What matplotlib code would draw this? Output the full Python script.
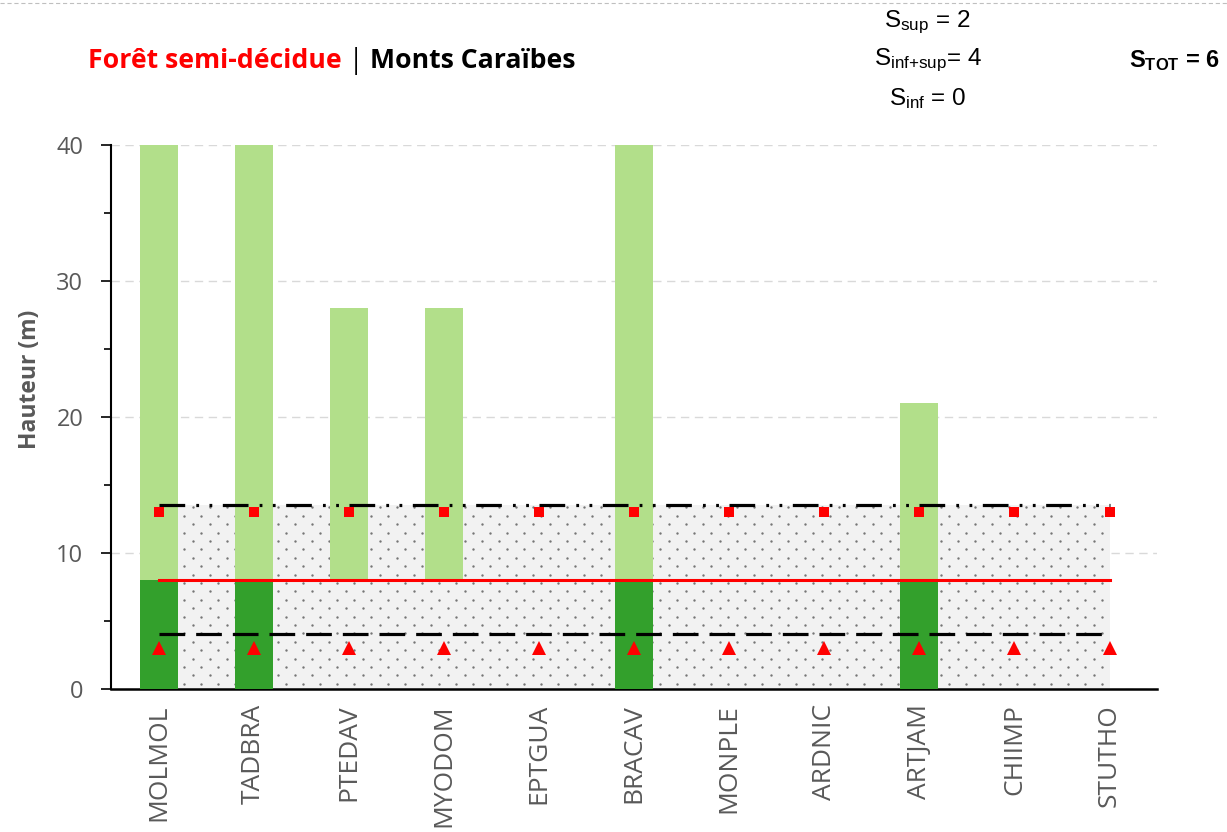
import numpy as np
import matplotlib
matplotlib.use("Agg")
import matplotlib.pyplot as plt
from matplotlib.lines import Line2D

plt.rcParams['font.family'] = ['Open Sans', 'DejaVu Sans']
plt.rcParams['mathtext.fontset'] = 'custom'
plt.rcParams['mathtext.rm'] = 'Liberation Sans'
plt.rcParams['mathtext.bf'] = 'Liberation Sans:bold'
plt.rcParams['lines.scale_dashes'] = False

# especes et hauteurs (m)
especes = ['MOLMOL', 'TADBRA', 'PTEDAV', 'MYODOM', 'EPTGUA', 'BRACAV',
           'MONPLE', 'ARDNIC', 'ARTJAM', 'CHIIMP', 'STUTHO']
strate_inf = [8, 8, 0, 0, 0, 8, 0, 0, 8, 0, 0]
hauteur_max = [40, 40, 28, 28, 0, 40, 0, 0, 21, 0, 0]
seuil_canopee = 8
limite_sup = 13.5
limite_inf = 4
pts_sup = [13, 13, 13, 13, 13, 13, 13, 13, 13, 13, 13]
pts_inf = [3, 3, 3, 3, 3, 3, 3, 3, 3, 3, 3]

x = np.arange(len(especes))

W, H = 12.27, 8.32
fig = plt.figure(figsize=(W, H), dpi=100)
ax = fig.add_axes([0.0905, 0.172, 0.8525, 0.654])
ax.set_xlim(-0.5, len(x) - 0.5)
ax.set_ylim(0, 40)

# zone grisee
ax.fill_between(x, 0, limite_sup, facecolor='#f2f2f2', linewidth=0, zorder=1)

# trame de points en quinconce (17 px x 8.4 px)
px_x = W * 100 * 0.8525 / len(x)
px_y = H * 100 * 0.654 / 40
dx, dy = 17 / px_x, 8.4 / px_y
tx, ty = [], []
for i, yy in enumerate(np.arange(dy * 0.6, limite_sup, dy)):
    dec = dx / 2 if i % 2 else 0
    for xx in np.arange(x[0] + dx * 0.5 + dec, x[-1], dx):
        tx.append(xx)
        ty.append(yy)
ax.scatter(tx, ty, s=3, color='#767676', linewidths=0, zorder=1.5)

# barres: strate inferieure (vert fonce) et superieure (vert clair)
sup = np.array(hauteur_max, dtype=float)
bas = np.where(sup > 0, seuil_canopee, 0)
ax.bar(x, np.where(sup > 0, sup - bas, 0), bottom=bas, width=0.4,
       color='#b2df8a', zorder=2)
ax.bar(x, strate_inf, width=0.4, color='#33a02c', zorder=3)

# lignes de reference
ax.plot(x, [limite_sup] * len(x), color='black', lw=2.3,
        dashes=(18.5, 8, 2, 7.5, 2, 7.6), zorder=4)
ax.plot(x, [seuil_canopee] * len(x), color='red', lw=2.2, zorder=4)
ax.plot(x, [limite_inf] * len(x), color='black', lw=2.3,
        dashes=(18.5, 7.9), zorder=4)

ax.plot(x, pts_sup, 's', color='red', ms=6.5, mew=0, zorder=5)
ax.plot(x, pts_inf, '^', color='red', ms=9.5, mew=0, zorder=5)

ax.set_yticks([0, 10, 20, 30, 40])
ax.set_yticks([5, 15, 25, 35], minor=True)
ax.yaxis.grid(True, which='major', color='#d9d9d9', ls=(0, (6, 4)), lw=1)
ax.set_axisbelow(True)

ax.set_xticks(x)
ax.set_xticklabels(especes, rotation=90, fontsize=19, color='#595959')
ax.tick_params(axis='x', length=0, pad=11)
ax.tick_params(axis='y', which='major', direction='out', length=7, width=1.2,
               labelsize=17, labelcolor='#595959', pad=13)
ax.tick_params(axis='y', which='minor', direction='out', length=5, width=1.2)

for s in ['top', 'right']:
    ax.spines[s].set_visible(False)
ax.spines['left'].set_linewidth(1.5)
ax.spines['bottom'].set_linewidth(1.8)

ax.set_ylabel('Hauteur (m)', fontsize=16.5, fontweight='bold', color='#595959')
ax.yaxis.set_label_coords(-0.066, 0.568)

# titre: morceaux places l'un apres l'autre
rend = fig.canvas.get_renderer()
morceaux = [('Forêt semi-décidue', 'red', 'bold'), (' | ', 'black', 'normal'),
            ('Monts Caraïbes', 'black', 'bold')]
xpos = 88 / (W * 100)
for txt, col, poids in morceaux:
    t = fig.text(xpos, 0.927, txt, color=col, fontsize=19.2, fontweight=poids,
                 va='center')
    bb = t.get_window_extent(rend)
    xpos += bb.width / (W * 100)

fig.text(0.756, 0.973, r'$\mathrm{S_{sup}}$ = 2', fontsize=17.5,
         family='Liberation Sans', ha='center', va='center')
fig.text(0.756, 0.927, r'$\mathrm{S_{inf{+}sup}}$= 4', fontsize=17.5,
         family='Liberation Sans', ha='center', va='center')
fig.text(0.756, 0.882, r'$\mathrm{S_{inf}}$ = 0', fontsize=17.5,
         family='Liberation Sans', ha='center', va='center')
fig.text(0.994, 0.927, r'$\mathbf{S_{TOT}}$ = 6', fontsize=17,
         fontweight='bold', family='Liberation Sans', ha='right', va='center')

fig.add_artist(Line2D([0, 1], [0.9965, 0.9965], color='#bfbfbf', lw=0.8,
                      ls=(0, (3, 2))))

fig.savefig('out.png', dpi=100)
